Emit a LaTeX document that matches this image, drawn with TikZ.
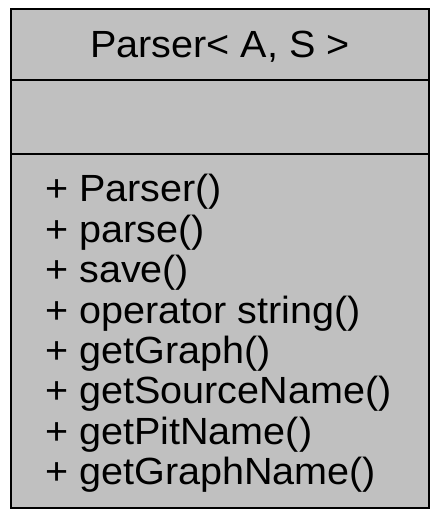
\documentclass[tikz,border=0pt]{standalone}
\usepackage{fontspec}
\setmainfont[FakeStretch=1.045]{Liberation Sans}
\usetikzlibrary{positioning, calc}
\definecolor{classgray}{RGB}{192,192,192}

\tikzset{
  classbox/.style={draw=black, fill=classgray, line width=1.8bp, inner sep=0pt},
  member/.style={anchor=base west, inner sep=0pt, font=\fontsize{38}{40}\selectfont},
}

\begin{document}
\begin{tikzpicture}[x=1bp, y=1bp]
      \useasboundingbox (0, 0) rectangle (440, 518);

      \node[classbox, minimum width=418bp, minimum height=499bp] (cls) at (220, 259.5) {};

      \draw[line width=1.8bp] (cls.west |- 0, 438) -- (cls.east |- 0, 438);
      \draw[line width=1.8bp] (cls.west |- 0, 364) -- (cls.east |- 0, 364);

      \node[member, anchor=base] (title) at (220, 460) {Parser< A, S >};

      \foreach \name [count=\i from 0] in {Parser(), parse(), save(), operator string(), getGraph(), getSourceName(), getPitName(), getGraphName()}
        \node[member] (m\i) at (45, 316 - 40.4*\i) {+ \name};
    \end{tikzpicture}
\end{document}
